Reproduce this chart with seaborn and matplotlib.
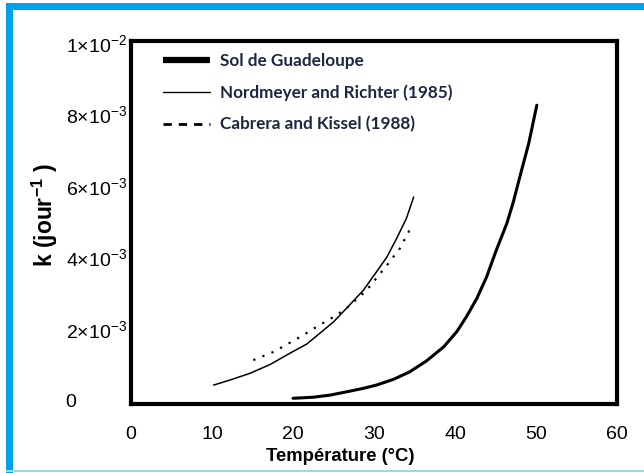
import numpy as np
import pandas as pd
import seaborn as sns
import matplotlib
matplotlib.use("Agg")
import matplotlib.pyplot as plt
from matplotlib.lines import Line2D
from matplotlib.patches import Rectangle

# ---- data ----
sol_T = [20.0, 22.5, 24.6, 26.6, 28.7, 30.3, 32.4, 34.4, 36.5, 38.6, 40.2, 41.4,
         42.7, 43.9, 45.1, 46.4, 47.2, 48.0, 49.1, 50.1]
sol_k = [0.05e-3, 0.08e-3, 0.14e-3, 0.23e-3, 0.33e-3, 0.42e-3, 0.58e-3, 0.79e-3,
         1.10e-3, 1.49e-3, 1.91e-3, 2.33e-3, 2.85e-3, 3.45e-3, 4.20e-3, 4.95e-3,
         5.55e-3, 6.25e-3, 7.19e-3, 8.26e-3]

nr_T = [10.2, 12.2, 14.7, 17.2, 19.6, 21.7, 23.3, 25.0, 26.6, 28.7, 30.3, 31.6,
        32.8, 34.0, 34.9]
nr_k = [0.42e-3, 0.56e-3, 0.75e-3, 1.00e-3, 1.31e-3, 1.57e-3, 1.87e-3, 2.19e-3,
        2.57e-3, 3.08e-3, 3.59e-3, 4.01e-3, 4.53e-3, 5.09e-3, 5.69e-3]

ck_T = [15.1, 17.6, 20.9, 22.9, 25.0, 26.6, 29.1, 31.6, 33.2, 34.6]
ck_k = [1.12e-3, 1.35e-3, 1.77e-3, 2.05e-3, 2.33e-3, 2.57e-3, 3.08e-3, 3.78e-3,
        4.25e-3, 4.85e-3]

series_names = ["Sol de Guadeloupe", "Nordmeyer and Richter (1985)", "Cabrera and Kissel (1988)"]
x_ticks = [0, 10, 20, 30, 40, 50, 60]
y_ticks = [0, 2e-3, 4e-3, 6e-3, 8e-3, 1e-2]
y_tick_labels = ["0", r"2×10$^{-3}$", r"4×10$^{-3}$", r"6×10$^{-3}$", r"8×10$^{-3}$", r"1×10$^{-2}$"]

sns.set_theme(style="white")
plt.rcParams["font.family"] = ["Liberation Sans", "DejaVu Sans"]
plt.rcParams["mathtext.fontset"] = "custom"
plt.rcParams["mathtext.rm"] = "Liberation Sans"
plt.rcParams["mathtext.it"] = "Liberation Sans"
plt.rcParams["mathtext.bf"] = "Liberation Sans:bold"
plt.rcParams["mathtext.default"] = "regular"

W, H = 644, 473
fig = plt.figure(figsize=(W / 100, H / 100), dpi=100)
fig.patch.set_facecolor("white")

L, R, T, B = 131, 617, 41, 404
ax = fig.add_axes([L / W, 1 - B / H, (R - L) / W, (B - T) / H])
ax.set_facecolor("white")

df_sol = pd.DataFrame({"T": sol_T, "k": sol_k})
df_nr = pd.DataFrame({"T": nr_T, "k": nr_k})
df_ck = pd.DataFrame({"T": ck_T, "k": ck_k})

sns.lineplot(data=df_sol, x="T", y="k", ax=ax, color="black", lw=2.2, sort=True)
sns.lineplot(data=df_nr, x="T", y="k", ax=ax, color="black", lw=1.1, sort=True)
sns.lineplot(data=df_ck, x="T", y="k", ax=ax, color="black", lw=1.6,
             linestyle=(0, (1, 3.4)), sort=True)

ax.set_xlim(0, 60)
ax.set_ylim(-0.00011, 0.01006)
ax.set_xticks(x_ticks)
ax.set_xticklabels([str(t) for t in x_ticks])
ax.set_yticks(y_ticks)
ax.set_yticklabels(y_tick_labels)
ax.tick_params(axis="both", length=0, labelsize=14, colors="black")
ax.tick_params(axis="x", pad=16)
ax.tick_params(axis="y", pad=47)
for lab in ax.get_yticklabels():
    lab.set_horizontalalignment("left")

for s in ax.spines.values():
    s.set_visible(True)
    s.set_color("black")
    s.set_linewidth(3)

ax.set_xlabel("Température (°C)", fontsize=13.3, fontweight="bold", color="black")
ax.xaxis.set_label_coords((340 - L) / (R - L), (B - 456) / (B - T))
ax.xaxis.label.set_va("center")
ax.set_ylabel(r"k (jour$^{\mathbf{-1}}$ )", fontsize=16.5, fontweight="bold", color="black")
ax.yaxis.set_label_coords((45 - L) / (R - L), (B - 215) / (B - T))
ax.yaxis.label.set_va("center")

handles = [
    Line2D([], [], color="black", lw=4.5, solid_capstyle="butt"),
    Line2D([], [], color="black", lw=1.0),
    Line2D([], [], color="black", lw=2.0, linestyle=(0, (3, 2.5)), dash_capstyle="butt"),
]
leg = ax.legend(handles, series_names, loc="upper left",
                bbox_to_anchor=((163 - L) / (R - L), (B - 53) / (B - T)),
                frameon=False, borderpad=0, borderaxespad=0,
                handlelength=2.75, handletextpad=0.58, labelspacing=0.9,
                prop={"family": "Lato", "weight": "bold", "size": 12.3})
for t in leg.get_texts():
    t.set_color("#1c2640")

# blue frame of the screenshot
fig.add_artist(Rectangle((6 / W, 0), 7 / W, 1 - 3 / H, transform=fig.transFigure,
                         color="#00a2e8", lw=0))
fig.add_artist(Rectangle((6 / W, 1 - 10 / H), 1, 7 / H, transform=fig.transFigure,
                         color="#00a2e8", lw=0))
fig.add_artist(Rectangle((6 / W, 1 - 472 / H), 1, 2 / H, transform=fig.transFigure,
                         color="#99d9ea", lw=0))

fig.savefig("out.png", dpi=100)
